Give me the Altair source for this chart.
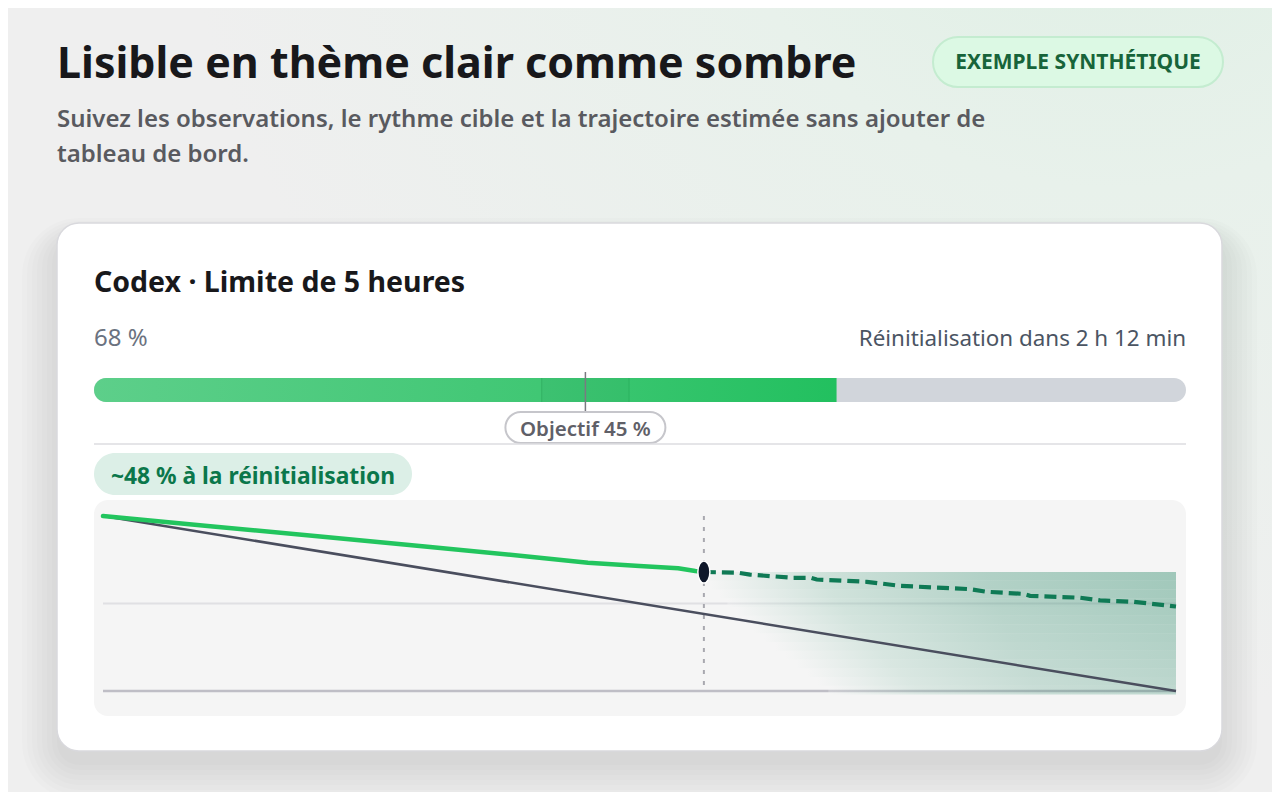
import altair as alt
import pandas as pd

W, H = 1264, 784
FONT = "Noto Sans"

# ---------------- data ----------------
obs_hours = [0, 0.5, 1.0, 1.5, 2.0, 2.26, 2.5, 2.68, 2.76, 2.8]
obs_values = [100, 94.2, 88.4, 82.6, 76.6, 73.3, 71.4, 70.1, 68.6, 68]
proj_hours = [2.8, 2.96, 3.015, 3.215, 3.30, 3.326, 3.559, 3.714, 4.04, 4.118, 4.287, 4.32, 4.553, 4.646, 4.80, 5.0]
proj_values = [68, 67.6, 66.5, 64.7, 64.7, 63.7, 62.4, 60.1, 58.2, 56.7, 55.5, 54.4, 53.3, 51.8, 51.0, 48.3]
pace_hours = [0, 5]
pace_values = [100, 0]
now_hour = 2.8
window_hours = 5
usage_pct = 68
target_pct = 45
tolerance = [41, 49]
grid_values = [50]
baseline_value = [0]

# uncertainty envelope strips (value range, fade-in start hour, strength)
fan_tops = [68, 63, 58, 53, 48, 43, 38, 33, 28, 23, 18, 13, 8, 3]
fan_bottoms = [63, 58, 53, 48, 43, 38, 33, 28, 23, 18, 13, 8, 3, -2]
fan_starts = [2.80, 2.83, 2.87, 2.91, 2.95, 2.99, 3.03, 3.08, 3.13, 3.18, 3.23, 3.28, 3.33, 3.38]
fan_alpha = [0.37, 0.36, 0.35, 0.34, 0.33, 0.32, 0.31, 0.30, 0.29, 0.28, 0.27, 0.26, 0.25, 0.24]

title = "Lisible en thème clair comme sombre"
subtitle = ["Suivez les observations, le rythme cible et la trajectoire estimée sans ajouter de",
            "tableau de bord."]
badge = "EXEMPLE SYNTHÉTIQUE"
card_title = "Codex · Limite de 5 heures"
usage_label = f"{usage_pct} %"
reset_label = "Réinitialisation dans 2 h 12 min"
target_label = f"Objectif {target_pct} %"
proj_label = f"~{round(proj_values[-1])} % à la réinitialisation"

# ---------------- helpers ----------------
O = 8  # page margin


def s(v):
    return v - O


def one():
    return alt.Data(values=[{"k": 0}])


def box(x0, x1, y0, y1, **kw):
    return alt.Chart(one()).mark_rect(**kw).encode(
        x=alt.value(s(x0)), x2=alt.value(s(x1)), y=alt.value(s(y0)), y2=alt.value(s(y1)))


def label(txt, x, y, align="left", **kw):
    return alt.Chart(one()).mark_text(text=txt, font=FONT, baseline="alphabetic", align=align, **kw).encode(
        x=alt.value(s(x)), y=alt.value(s(y)))


PX = alt.Scale(domain=[0, 100], range=[s(94), s(1186)], nice=False, zero=False)
TX = alt.Scale(domain=[0, window_hours], range=[s(103), s(1176)], nice=False, zero=False)
TY = alt.Scale(domain=[0, 100], range=[s(691), s(516)], nice=False, zero=False)

layers = []

# background
layers.append(box(0, W + O, 0, H + O, color="#efefef"))
layers.append(box(0, W + O, 0, H + O, color=alt.RadialGradient(
    gradient="radial", x1=0.88, y1=0.0, r1=0.0, x2=0.88, y2=0.0, r2=0.75,
    stops=[alt.GradientStop(color="#dbefe2", offset=0),
           alt.GradientStop(color="#e8f1eb", offset=0.45),
           alt.GradientStop(color="#efefef", offset=1)])))

# card shadow
for i in range(8):
    layers.append(box(57 - i * 5, 1222 + i * 5, 223 + 16 - i * 3, 751 + 14 + i * 5,
                      color="#000000", opacity=0.011, cornerRadius=22 + i * 5))

# card
layers.append(box(57, 1222, 223, 751, color="#ffffff", stroke="#d9d9dd", strokeWidth=1.5, cornerRadius=22))

# header
layers.append(label(title, 57, 78, fontSize=43, fontWeight="bold", color="#18181b"))
layers.append(label(subtitle, 57, 127, fontSize=24, fontWeight=600, color="#595a5f", lineHeight=35))
layers.append(box(933, 1223, 37, 87, color="#dcf9e4", stroke="#c4ecd0", strokeWidth=2, cornerRadius=25))
layers.append(label(badge, 1078, 69, align="center", fontSize=21, fontWeight="bold", color="#17643a"))

# card header
layers.append(label(card_title, 94, 292, fontSize=28.5, fontWeight="bold", color="#18181b"))
layers.append(label(usage_label, 94, 346, fontSize=24, color="#6b7280"))
layers.append(label(reset_label, 1186, 346, align="right", fontSize=22.4, color="#4b5563"))

# progress bar
track = pd.DataFrame({"start": [0], "end": [100]})
fill = pd.DataFrame({"start": [0], "end": [usage_pct]})
tol = pd.DataFrame({"start": [tolerance[0]], "end": [tolerance[1]]})
tol_edges = pd.DataFrame({"v": tolerance})
tgt = pd.DataFrame({"v": [target_pct], "t": [target_label]})

layers.append(alt.Chart(track).mark_rect(color="#d1d5db", cornerRadius=12).encode(
    x=alt.X("start:Q", scale=PX, axis=None), x2="end:Q",
    y=alt.value(s(378)), y2=alt.value(s(402))))
layers.append(alt.Chart(fill).mark_rect(
    cornerRadiusTopLeft=12, cornerRadiusBottomLeft=12,
    color=alt.LinearGradient(gradient="linear", x1=0, y1=0, x2=1, y2=0,
                             stops=[alt.GradientStop(color="#5dcf8a", offset=0),
                                    alt.GradientStop(color="#40c774", offset=0.6),
                                    alt.GradientStop(color="#22c05f", offset=1)])).encode(
    x=alt.X("start:Q", scale=PX, axis=None), x2="end:Q",
    y=alt.value(s(378)), y2=alt.value(s(402))))
layers.append(alt.Chart(tol).mark_rect(color="#0d6b35", opacity=0.05).encode(
    x=alt.X("start:Q", scale=PX, axis=None), x2="end:Q",
    y=alt.value(s(378)), y2=alt.value(s(402))))
layers.append(alt.Chart(tol_edges).mark_rule(color="#178a47", opacity=0.3, strokeWidth=1).encode(
    x=alt.X("v:Q", scale=PX, axis=None), y=alt.value(s(378)), y2=alt.value(s(402))))
layers.append(alt.Chart(tgt).mark_rule(color="#7a7a82", strokeWidth=1.5).encode(
    x=alt.X("v:Q", scale=PX, axis=None), y=alt.value(s(372)), y2=alt.value(s(412))))
layers.append(alt.Chart(tgt).mark_rect(color="#ffffff", stroke="#c6c6cb", strokeWidth=2,
                                       cornerRadius=15.5, xOffset=-80, x2Offset=80).encode(
    x=alt.X("v:Q", scale=PX, axis=None), x2="v:Q",
    y=alt.value(s(412)), y2=alt.value(s(443))))
layers.append(alt.Chart(tgt).mark_text(font=FONT, fontSize=20.5, fontWeight=600, color="#5f6068",
                                       baseline="alphabetic", align="center").encode(
    x=alt.X("v:Q", scale=PX, axis=None), y=alt.value(s(436)), text="t:N"))

# separator
layers.append(alt.Chart(track).mark_rule(color="#dcdce0", strokeWidth=1.5).encode(
    x=alt.X("start:Q", scale=PX, axis=None), x2="end:Q", y=alt.value(s(444))))

# projection pill
layers.append(box(94, 412, 453, 495, color="#dcefe7", cornerRadius=21))
layers.append(label(proj_label, 253, 484, align="center", fontSize=22.8, fontWeight="bold", color="#0b774b"))

# chart panel
layers.append(box(94, 1186, 500, 716, color="#f5f5f5", cornerRadius=14))

grid = pd.DataFrame({"v": grid_values, "a": [0], "b": [window_hours]})
base = pd.DataFrame({"v": baseline_value, "a": [0], "b": [window_hours]})
layers.append(alt.Chart(grid).mark_rule(color="#e0e0e3", strokeWidth=2).encode(
    x=alt.X("a:Q", scale=TX, axis=None), x2="b:Q", y=alt.Y("v:Q", scale=TY, axis=None)))
layers.append(alt.Chart(base).mark_rule(color="#bfbec6", strokeWidth=2.5).encode(
    x=alt.X("a:Q", scale=TX, axis=None), x2="b:Q", y=alt.Y("v:Q", scale=TY, axis=None)))

# uncertainty envelope
fan = pd.DataFrame({"start": fan_starts, "end": [window_hours] * len(fan_tops),
                    "top": fan_tops, "bottom": fan_bottoms, "a": fan_alpha})
layers.append(alt.Chart(fan).mark_rect(
    color=alt.LinearGradient(gradient="linear", x1=0, y1=0, x2=1, y2=0,
                             stops=[alt.GradientStop(color="#f5f5f5", offset=0),
                                    alt.GradientStop(color="#8cc0ac", offset=0.25),
                                    alt.GradientStop(color="#3c9274", offset=0.6),
                                    alt.GradientStop(color="#0f7a55", offset=1)])).encode(
    x=alt.X("start:Q", scale=TX, axis=None), x2="end:Q",
    y=alt.Y("top:Q", scale=TY, axis=None), y2="bottom:Q",
    opacity=alt.Opacity("a:Q", scale=None, legend=None)))

# now line
now = pd.DataFrame({"t": [now_hour], "a": [100], "b": [0]})
layers.append(alt.Chart(now).mark_rule(color="#a8a8af", strokeWidth=2, strokeDash=[4, 7]).encode(
    x=alt.X("t:Q", scale=TX, axis=None), y=alt.Y("a:Q", scale=TY, axis=None), y2="b:Q"))

# pace line
pace = pd.DataFrame({"t": pace_hours, "v": pace_values})
layers.append(alt.Chart(pace).mark_line(color="#4a4e5e", strokeWidth=2.5).encode(
    x=alt.X("t:Q", scale=TX, axis=None), y=alt.Y("v:Q", scale=TY, axis=None)))

# observed
obs = pd.DataFrame({"t": obs_hours, "v": obs_values})
layers.append(alt.Chart(obs).mark_line(color="#22c55e", strokeWidth=4.5, strokeCap="round",
                                       strokeJoin="round").encode(
    x=alt.X("t:Q", scale=TX, axis=None), y=alt.Y("v:Q", scale=TY, axis=None)))

# projection
proj = pd.DataFrame({"t": proj_hours, "v": proj_values})
layers.append(alt.Chart(proj).mark_line(color="#0f7a55", strokeWidth=4.2, strokeDash=[12, 6]).encode(
    x=alt.X("t:Q", scale=TX, axis=None), y=alt.Y("v:Q", scale=TY, axis=None)))

# now dot
dot = pd.DataFrame({"t": [now_hour], "v": [proj_values[0]]})
layers.append(alt.Chart(dot).mark_point(
    shape="M0,-1 A0.55,1 0 1,1 0,1 A0.55,1 0 1,1 0,-1 Z",
    size=484, filled=True, fill="#0f172a", stroke="#ffffff", strokeWidth=1.5, opacity=1).encode(
    x=alt.X("t:Q", scale=TX, axis=None), y=alt.Y("v:Q", scale=TY, axis=None)))

chart = alt.layer(*layers).resolve_scale(x="independent", y="independent").properties(
    width=W, height=H, autosize=alt.AutoSizeParams(type="none"), padding=0
).configure_view(stroke=None)

chart.save("out.html", embed_options={"renderer": "svg", "actions": False})
